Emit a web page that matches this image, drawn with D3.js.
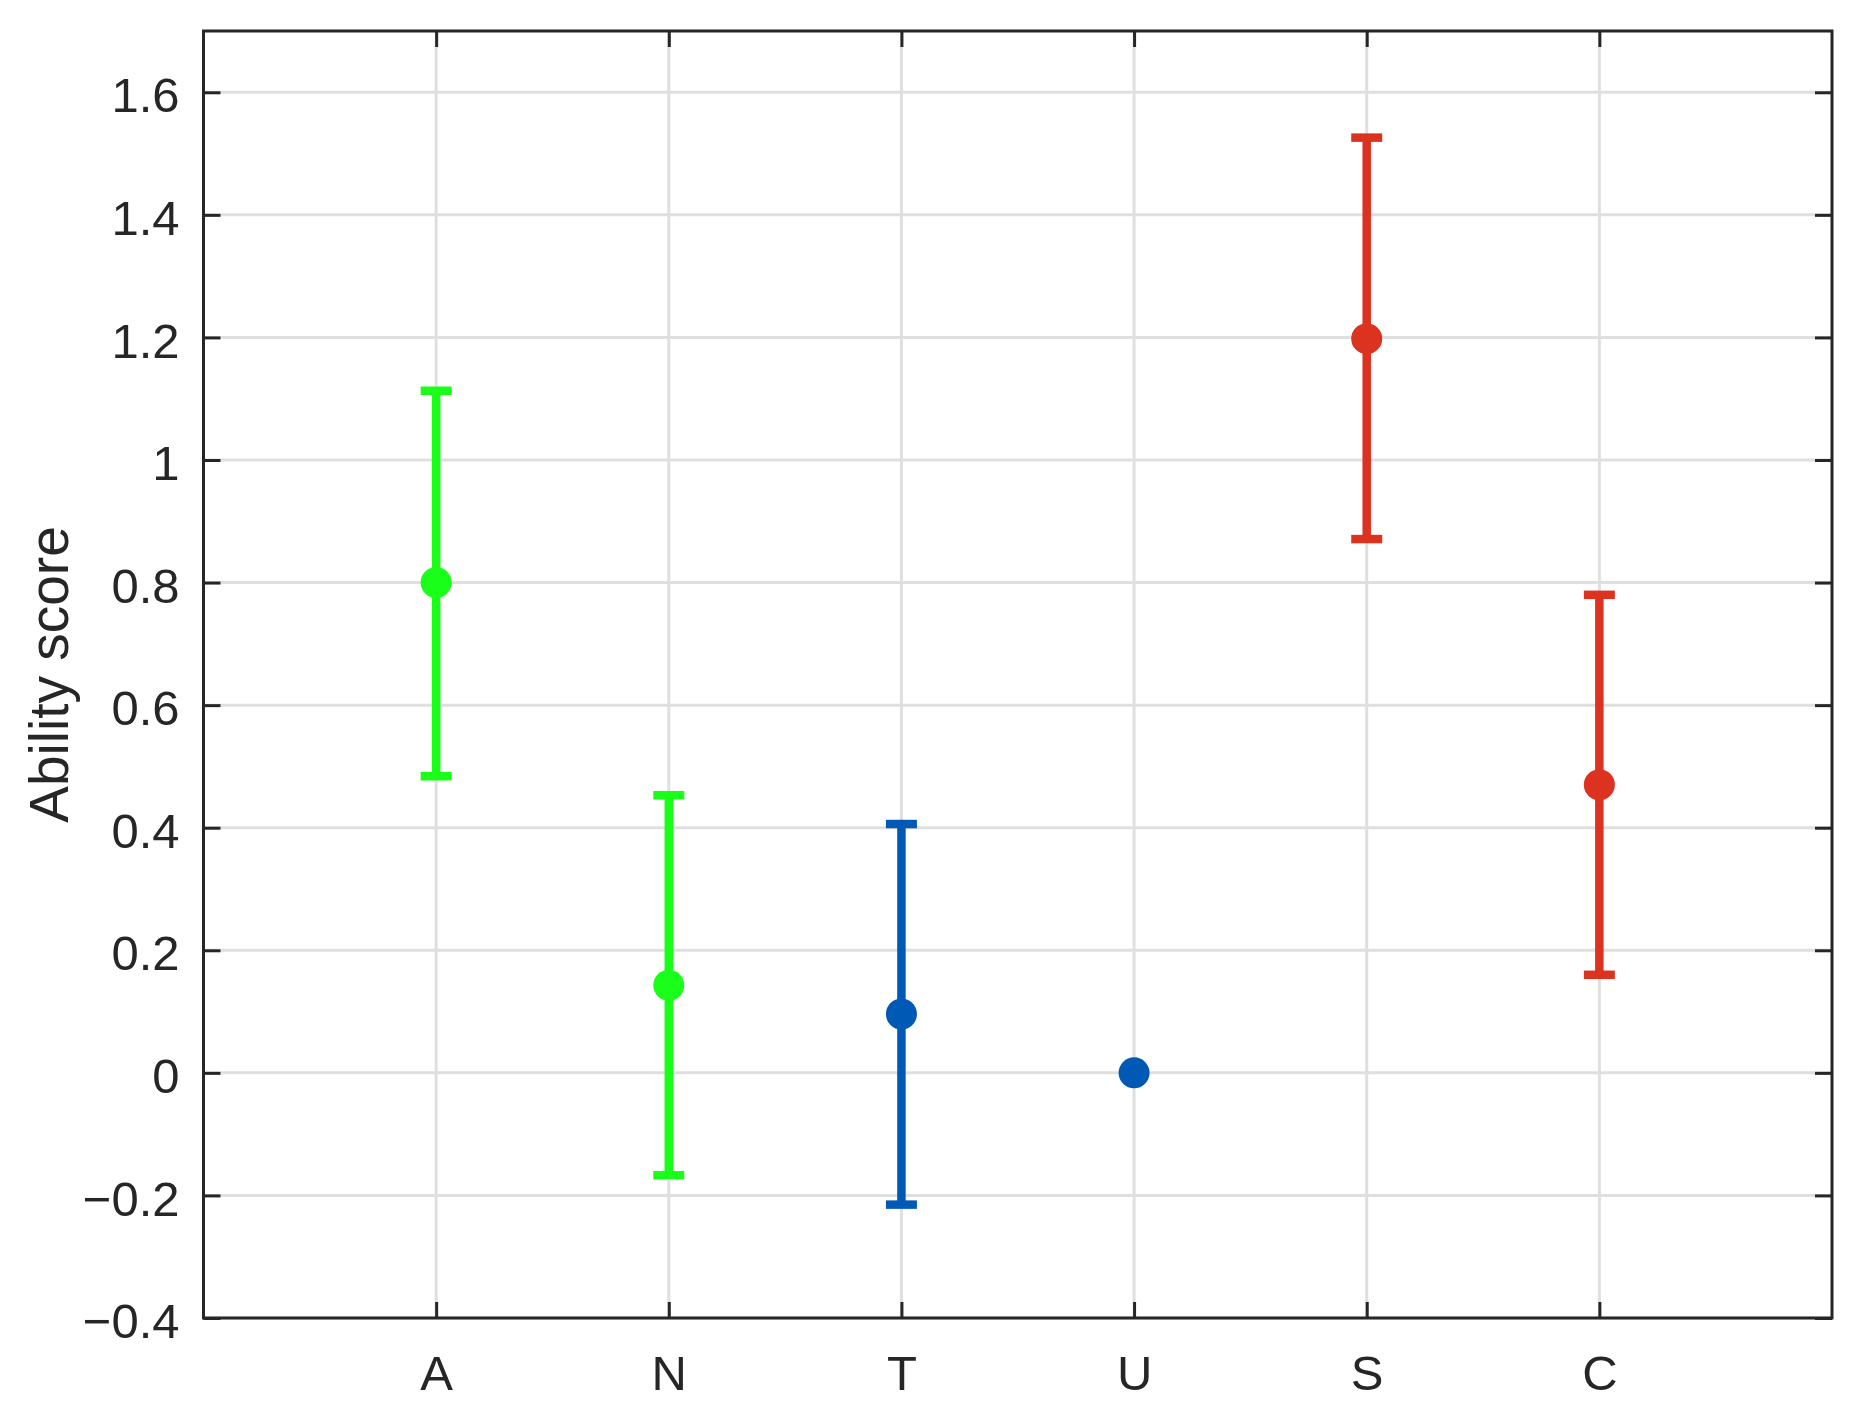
<!DOCTYPE html>
<html>
<head>
<meta charset="utf-8">
<script src="https://cdn.jsdelivr.net/npm/d3@7"></script>
<style>
  body { margin: 0; background: #fff; }
  text { font-family: "Liberation Sans", Arial, sans-serif; fill: #262626; }
</style>
</head>
<body>
<script>
// data
var categories = ["A", "N", "T", "U", "S", "C"];
var means = [0.800, 0.143, 0.096, 0.000, 1.198, 0.470];
var lower = [0.484, -0.167, -0.215, 0.000, 0.871, 0.160];
var upper = [1.113, 0.453, 0.406, 0.000, 1.526, 0.780];
var groupColors = ["#1aff1a", "#1aff1a", "#005ab5", "#005ab5", "#dc3220", "#dc3220"];
var yTicks = [-0.4, -0.2, 0, 0.2, 0.4, 0.6, 0.8, 1, 1.2, 1.4, 1.6];
var yLabel = "Ability score";

var width = 1867, height = 1409;
// plot box (window.top is reserved, so keep these prefixed)
var plotLeft = 203.5, plotRight = 1832, plotTop = 31, plotBottom = 1318;
var axisColor = "#262626";

var svg = d3.select("body").append("svg")
    .attr("width", width)
    .attr("height", height);

// scales
var x = d3.scalePoint().domain(categories).range([plotLeft, plotRight]).padding(1);
var y = d3.scaleLinear().domain([-0.4, 1.7]).range([plotBottom, plotTop]);

// grid
var grid = svg.append("g").attr("stroke", "#dfdfdf").attr("stroke-width", 3);
yTicks.forEach(function(t) {
    grid.append("line")
        .attr("x1", plotLeft).attr("x2", plotRight)
        .attr("y1", y(t)).attr("y2", y(t));
});
categories.forEach(function(c) {
    grid.append("line")
        .attr("x1", x(c)).attr("x2", x(c))
        .attr("y1", plotTop).attr("y2", plotBottom);
});

// error bars
var capHalf = 15.5;
categories.forEach(function(c, i) {
    if (upper[i] - lower[i] <= 0) return;
    var g = svg.append("g")
        .attr("stroke", groupColors[i])
        .attr("stroke-width", 8.5);
    g.append("line")
        .attr("x1", x(c)).attr("x2", x(c))
        .attr("y1", y(lower[i])).attr("y2", y(upper[i]));
    [lower[i], upper[i]].forEach(function(v) {
        g.append("line")
            .attr("x1", x(c) - capHalf).attr("x2", x(c) + capHalf)
            .attr("y1", y(v)).attr("y2", y(v));
    });
});

// dots
svg.selectAll(".dot")
    .data(categories)
    .enter()
    .append("circle")
        .attr("class", "dot")
        .attr("cx", function(d) { return x(d); })
        .attr("cy", function(d, i) { return y(means[i]); })
        .attr("r", 15.5)
        .attr("fill", function(d, i) { return groupColors[i]; });

// axes (ticks point inward, mirrored on top and right)
function styleAxis(sel) {
    sel.select(".domain").remove();
    sel.selectAll(".tick line").attr("stroke", axisColor).attr("stroke-width", 3);
    sel.selectAll(".tick text").style("font-size", "49px").attr("fill", axisColor);
}

svg.append("g")
    .attr("transform", "translate(" + plotLeft + ",0)")
    .call(d3.axisLeft(y).tickValues(yTicks).tickSize(-17).tickPadding(24).tickFormat(d3.format("~g")))
    .call(styleAxis)
    .selectAll(".tick text").attr("dy", "0.4em");

svg.append("g")
    .attr("transform", "translate(" + plotRight + ",0)")
    .call(d3.axisRight(y).tickValues(yTicks).tickSize(-17).tickFormat(""))
    .call(styleAxis);

svg.append("g")
    .attr("transform", "translate(0," + plotBottom + ")")
    .call(d3.axisBottom(x).tickSize(-16).tickPadding(37))
    .call(styleAxis);

svg.append("g")
    .attr("transform", "translate(0," + plotTop + ")")
    .call(d3.axisTop(x).tickSize(-16).tickFormat(""))
    .call(styleAxis);

// frame
svg.append("rect")
    .attr("x", plotLeft).attr("y", plotTop)
    .attr("width", plotRight - plotLeft).attr("height", plotBottom - plotTop)
    .attr("fill", "none")
    .attr("stroke", axisColor)
    .attr("stroke-width", 3);

// y label
svg.append("text")
    .attr("transform", "translate(68," + ((plotTop + plotBottom) / 2) + ") rotate(-90)")
    .attr("text-anchor", "middle")
    .style("font-size", "55px")
    .text(yLabel);
</script>
</body>
</html>
